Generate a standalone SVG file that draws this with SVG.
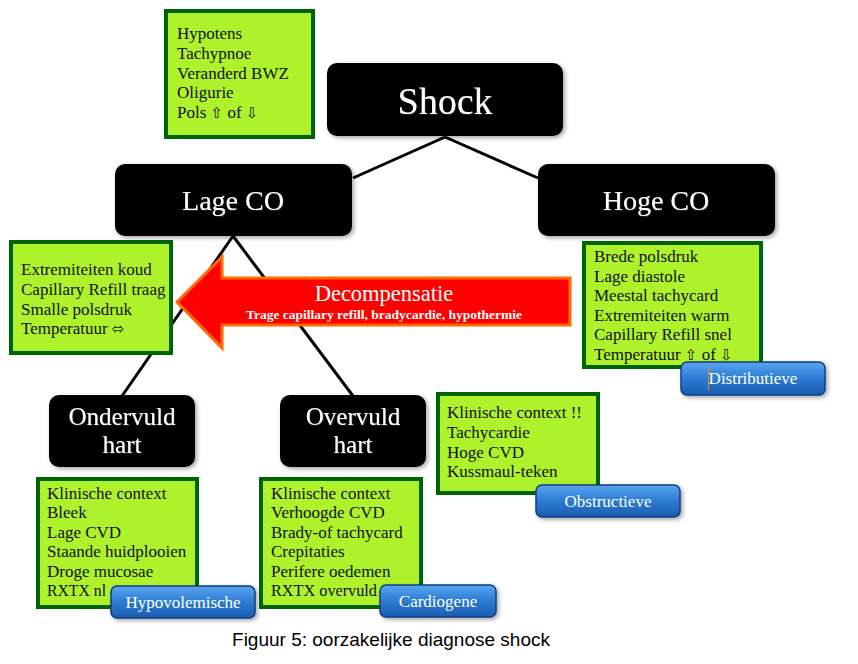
<svg xmlns="http://www.w3.org/2000/svg" width="858" height="664" viewBox="0 0 858 664">
<defs>
  <linearGradient id="btnGrad" x1="0" y1="0" x2="0" y2="1">
    <stop offset="0" stop-color="#5aa6ee"/>
    <stop offset="0.45" stop-color="#2f7fd6"/>
    <stop offset="1" stop-color="#1a5cb0"/>
  </linearGradient>
  <filter id="boxShadow" x="-10%" y="-10%" width="125%" height="130%">
    <feDropShadow dx="2" dy="2" stdDeviation="2" flood-color="#000" flood-opacity="0.35"/>
  </filter>
  <filter id="txtShadow" x="-10%" y="-10%" width="125%" height="130%">
    <feDropShadow dx="1" dy="1" stdDeviation="0.6" flood-color="#223" flood-opacity="0.9"/>
  </filter>
  <style>
    .bg { fill: #ffffff; }
    .dark { fill: #000000; filter: url(#boxShadow); }
    .darktxt { font-family: "Liberation Serif", "DejaVu Serif", serif; fill: #ffffff; text-anchor: middle; filter: url(#txtShadow); }
    .green { fill: #aef22b; stroke: #006400; stroke-width: 4; }
    .gtxt { font-family: "Liberation Serif", "DejaVu Serif", serif; font-size: 17px; fill: #111111; }
    .sym { font-family: "DejaVu Sans", "Noto Sans", sans-serif; font-size: 15px; }
    .btn { fill: url(#btnGrad); stroke: #0d3f80; stroke-width: 1.5; filter: url(#boxShadow); }
    .btntxt { font-family: "Liberation Serif", "DejaVu Serif", serif; font-size: 17px; fill: #ffffff; text-anchor: middle; }
    .conn { stroke: #000000; stroke-width: 3; fill: none; }
  </style>
</defs>
<rect class="bg" x="0" y="0" width="858" height="664"/>

<g id="connectors">
  <line class="conn" x1="445" y1="137" x2="353" y2="178"/>
  <line class="conn" x1="445" y1="137" x2="538" y2="178"/>
  <line class="conn" x1="233" y1="236" x2="122" y2="396"/>
  <line class="conn" x1="233" y1="236" x2="353" y2="396"/>
</g>

<g id="symptoms-top">
  <rect class="green" x="166" y="11" width="147" height="126"/>
  <text class="gtxt" x="177" y="39">Hypotens</text>
  <text class="gtxt" x="177" y="59">Tachypnoe</text>
  <text class="gtxt" x="177" y="79">Veranderd BWZ</text>
  <text class="gtxt" x="177" y="98">Oligurie</text>
  <text class="gtxt" x="177" y="118">Pols <tspan class="sym">⇧</tspan> of <tspan class="sym">⇩</tspan></text>
</g>

<g id="shock">
  <rect class="dark" x="327" y="63" width="236" height="73" rx="10"/>
  <text class="darktxt" x="445" y="114" font-size="38">Shock</text>
</g>

<g id="lage-co">
  <rect class="dark" x="115" y="164" width="237" height="72" rx="10"/>
  <text class="darktxt" x="233" y="210" font-size="28">Lage CO</text>
</g>

<g id="hoge-co">
  <rect class="dark" x="538" y="164" width="237" height="72" rx="10"/>
  <text class="darktxt" x="656" y="210" font-size="28">Hoge CO</text>
</g>

<g id="lage-co-signs">
  <rect class="green" x="11" y="242" width="160" height="111"/>
  <text class="gtxt" x="21" y="275">Extremiteiten koud</text>
  <text class="gtxt" x="21" y="295">Capillary Refill traag</text>
  <text class="gtxt" x="21" y="315">Smalle polsdruk</text>
  <text class="gtxt" x="21" y="334">Temperatuur <tspan class="sym">⬄</tspan></text>
</g>

<g id="decompensatie">
  <polygon points="177,302 222,257 222,278 570,278 570,325 222,325 222,348" fill="#ff0000" stroke="#ff6a00" stroke-width="3" stroke-linejoin="miter"/>
  <text x="384" y="301" font-family="Liberation Serif, DejaVu Serif, serif" font-size="22.5" fill="#ffffff" text-anchor="middle">Decompensatie</text>
  <text x="384" y="319" font-family="Liberation Serif, DejaVu Serif, serif" font-size="13.5" font-weight="bold" fill="#ffffff" text-anchor="middle">Trage capillary refill, bradycardie, hypothermie</text>
</g>

<g id="hoge-co-signs">
  <rect class="green" x="584" y="243" width="177" height="124"/>
  <text class="gtxt" x="594" y="262">Brede polsdruk</text>
  <text class="gtxt" x="594" y="282">Lage diastole</text>
  <text class="gtxt" x="594" y="301">Meestal tachycard</text>
  <text class="gtxt" x="594" y="321">Extremiteiten warm</text>
  <text class="gtxt" x="594" y="340">Capillary Refill snel</text>
  <text class="gtxt" x="594" y="360">Temperatuur <tspan class="sym">⇧</tspan> of <tspan class="sym">⇩</tspan></text>
</g>

<g id="distributieve">
  <rect class="btn" x="681" y="362" width="144" height="33" rx="6"/>
  <line x1="708.5" y1="367" x2="708.5" y2="390" stroke="#ff8000" stroke-width="1"/>
  <text class="btntxt" x="753" y="384">Distributieve</text>
</g>

<g id="ondervuld">
  <rect class="dark" x="49" y="395" width="146" height="72" rx="10"/>
  <text class="darktxt" x="122" y="425" font-size="25">Ondervuld</text>
  <text class="darktxt" x="122" y="453" font-size="25">hart</text>
</g>

<g id="overvuld">
  <rect class="dark" x="280" y="395" width="146" height="72" rx="10"/>
  <text class="darktxt" x="353" y="425" font-size="25">Overvuld</text>
  <text class="darktxt" x="353" y="453" font-size="25">hart</text>
</g>

<g id="obstructief-signs">
  <rect class="green" x="438" y="394" width="160" height="99"/>
  <text class="gtxt" x="447" y="418">Klinische context !!</text>
  <text class="gtxt" x="447" y="438">Tachycardie</text>
  <text class="gtxt" x="447" y="458">Hoge CVD</text>
  <text class="gtxt" x="447" y="477">Kussmaul-teken</text>
</g>

<g id="obstructieve">
  <rect class="btn" x="536" y="485" width="144" height="32" rx="6"/>
  <text class="btntxt" x="608" y="507">Obstructieve</text>
</g>

<g id="hypovolemisch-signs">
  <rect class="green" x="38" y="479" width="159" height="128"/>
  <text class="gtxt" x="47" y="499">Klinische context</text>
  <text class="gtxt" x="47" y="518">Bleek</text>
  <text class="gtxt" x="47" y="538">Lage CVD</text>
  <text class="gtxt" x="47" y="557">Staande huidplooien</text>
  <text class="gtxt" x="47" y="577">Droge mucosae</text>
  <text class="gtxt" x="47" y="596" textLength="59" lengthAdjust="spacingAndGlyphs">RXTX nl</text>
</g>

<g id="hypovolemische">
  <rect class="btn" x="111" y="586" width="144" height="32" rx="6"/>
  <text class="btntxt" x="183" y="608">Hypovolemische</text>
</g>

<g id="cardiogeen-signs">
  <rect class="green" x="261" y="479" width="160" height="128"/>
  <text class="gtxt" x="271" y="499">Klinische context</text>
  <text class="gtxt" x="271" y="518">Verhoogde CVD</text>
  <text class="gtxt" x="271" y="538">Brady-of tachycard</text>
  <text class="gtxt" x="271" y="557">Crepitaties</text>
  <text class="gtxt" x="271" y="577">Perifere oedemen</text>
  <text class="gtxt" x="271" y="596" textLength="106" lengthAdjust="spacingAndGlyphs">RXTX overvuld</text>
</g>

<g id="cardiogene">
  <rect class="btn" x="380" y="585" width="116" height="32" rx="6"/>
  <text class="btntxt" x="438" y="607">Cardiogene</text>
</g>

<text x="391" y="646" font-family="Liberation Sans, Arial, sans-serif" font-size="19" fill="#000000" text-anchor="middle">Figuur 5: oorzakelijke diagnose shock</text>
</svg>
